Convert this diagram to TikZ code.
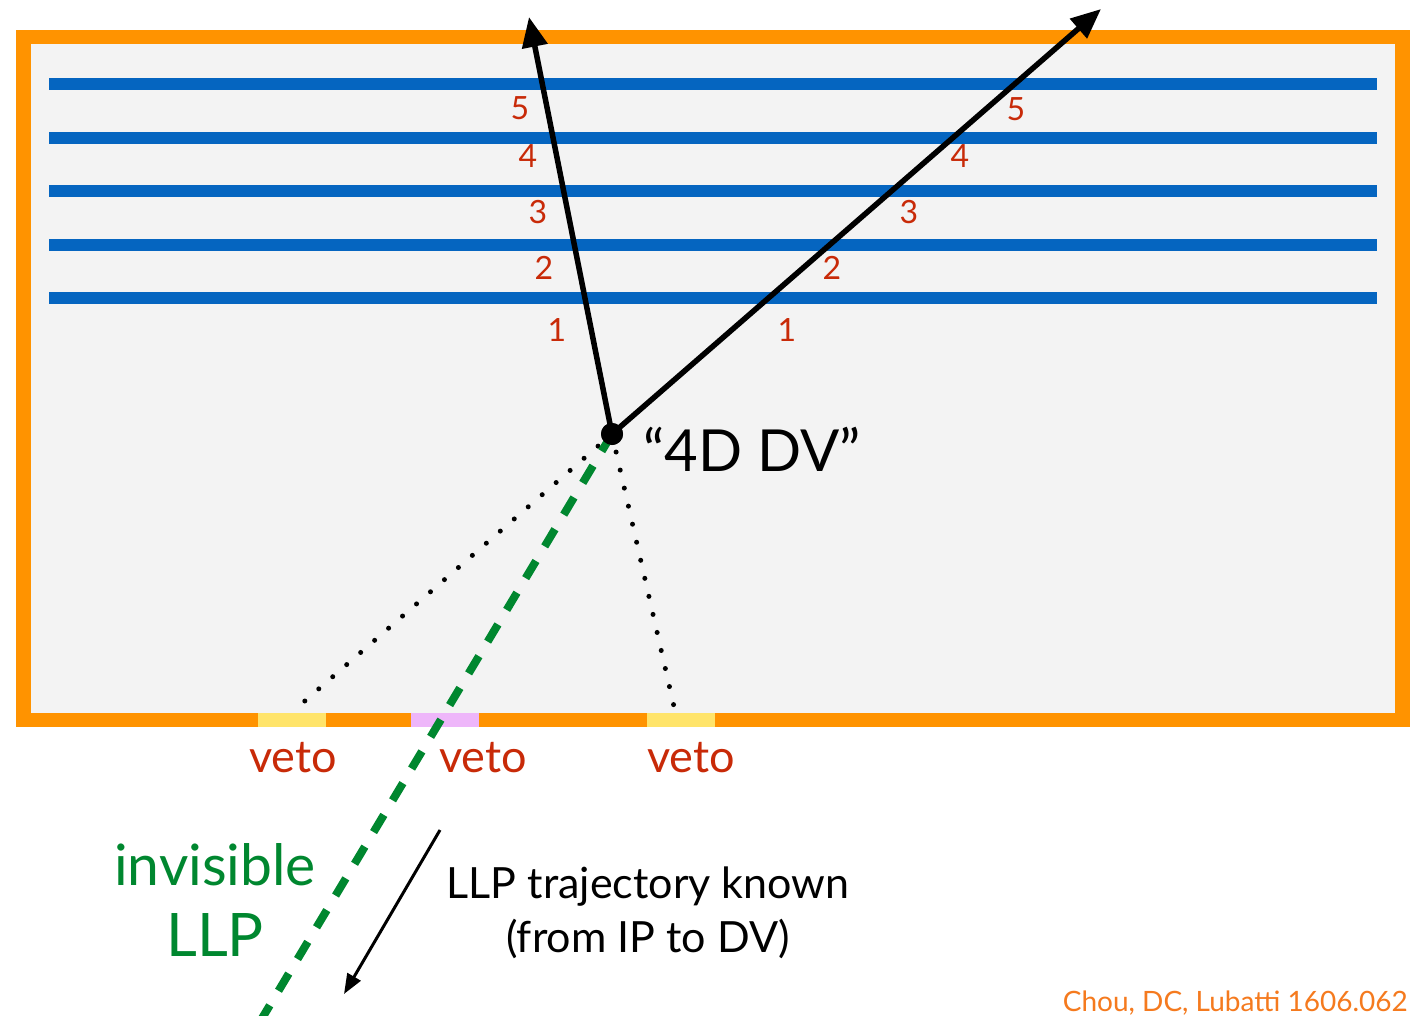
\documentclass[tikz,border=0pt]{standalone}
\usepackage{fontspec}
\setmainfont{Lato}
\usetikzlibrary{arrows.meta}
\definecolor{frameorange}{HTML}{FF9300}
\definecolor{cite}{HTML}{F57A1E}
\definecolor{layerblue}{HTML}{0565C0}
\definecolor{numred}{HTML}{C82A08}
\definecolor{llpgreen}{HTML}{00872F}
\definecolor{vetoyellow}{HTML}{FFE46A}
\definecolor{vetopink}{HTML}{EEB6FA}
\definecolor{inner}{HTML}{F3F3F3}
\tikzset{
  fs/.style={font=\fontsize{#1}{#1}\selectfont},
  num/.style={text=numred, fs=32, inner sep=0pt},
  layer/.style={draw=layerblue, line width=12pt},
  vetotxt/.style={text=numred, fs=45, inner sep=0pt},
  track/.style={line width=5.5pt, -{Triangle[length=30pt,width=25pt]}},
  dotline/.style={line width=5pt, line cap=round, dash pattern=on 0pt off 18.5pt},
  llp/.style={draw=llpgreen, line width=8pt, dash pattern=on 20pt off 17pt},
}
\begin{document}
\begin{tikzpicture}[x=1pt,y=-1pt]
\useasboundingbox (0,0) rectangle (1412,1016);
\fill[white] (0,0) rectangle (1412,1016);
% detector frame
\draw[frameorange, line width=14.5pt, fill=inner] (23.5,37) rectangle (1402.5,720);
% veto patches
\fill[vetoyellow] (258,713) rectangle (326,727);
\fill[vetopink] (411,713) rectangle (479,727);
\fill[vetoyellow] (647,713) rectangle (715,727);
% layers
\foreach \y in {84,138,191,245,298} \draw[layer] (49,\y) -- (1377,\y);
% DV
\node[circle, fill=black, minimum size=22pt, inner sep=0pt] (dv) at (612,434) {};
\coordinate (tipL) at (529,17);
\coordinate (tipR) at (1101,9);
\coordinate (vL) at (291,713);
\coordinate (vR) at (675,711);
\coordinate (llpEnd) at (258,1025);
% dotted and dashed lines
\draw[dotline] (dv.center) -- (vL);
\draw[dotline] (dv.center) -- (vR);
\draw[llp] (dv.center) -- (llpEnd);
% tracks
\draw[track] (dv.center) -- (tipL);
\draw[track] (dv.center) -- (tipR);
\node[circle, fill=black, minimum size=22pt, inner sep=0pt] at (dv) {};
% hit numbers
\node[num] (l5) at (520,108) {5};
\node[num] (l4) at (528,156) {4};
\node[num] (l3) at (538,212) {3};
\node[num] (l2) at (544,268) {2};
\node[num] (l1) at (557,330) {1};
\node[num] (r5) at (1016,109) {5};
\node[num] (r4) at (960,156) {4};
\node[num] (r3) at (909,212) {3};
\node[num] (r2) at (832,268) {2};
\node[num] (r1) at (787,330) {1};
% DV label
\node[fs=58, inner sep=0pt, anchor=west] (dvlbl) at (643,449) {“4D DV”};
% veto labels
\node[vetotxt] (v1) at (293,758) {veto};
\node[vetotxt] (v2) at (483,758) {veto};
\node[vetotxt] (v3) at (691,758) {veto};
% invisible LLP
\node[text=llpgreen, fs=57, inner sep=0pt] (inv) at (215,865) {invisible};
\node[text=llpgreen, fs=60, inner sep=0pt] (llplbl) at (215,935) {LLP};
% trajectory arrow
\coordinate (ta) at (440,830);
\coordinate (tb) at (344,994);
\draw[line width=3pt, -{Triangle[length=20pt,width=15pt]}] (ta) -- (tb);
\node[fs=43, inner sep=0pt, align=center] (traj) at (648,913) {LLP trajectory known\\[11pt](from IP to DV)};
% citation
\node[text=cite, fs=28, inner sep=0pt, anchor=base east] (cit) at (1408,1011) {Chou, DC, Lubatti 1606.062};
\end{tikzpicture}
\end{document}
